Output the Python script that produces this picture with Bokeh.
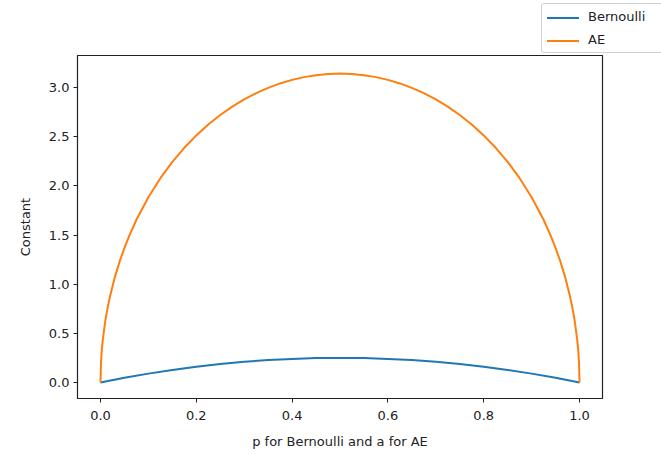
from bokeh.plotting import figure
from bokeh.layouts import column
from bokeh.models import Range1d, FixedTicker, PrintfTickFormatter, Div
from bokeh.embed import file_html
from bokeh.resources import INLINE

# Bernoulli constant p(1-p)
bern_p = [0.0, 0.05, 0.1, 0.15, 0.2, 0.25, 0.3, 0.35, 0.4, 0.45, 0.5,
          0.55, 0.6, 0.65, 0.7, 0.75, 0.8, 0.85, 0.9, 0.95, 1.0]
bern_c = [0.0, 0.048, 0.09, 0.128, 0.16, 0.188, 0.21, 0.228, 0.24, 0.248, 0.25,
          0.248, 0.24, 0.228, 0.21, 0.188, 0.16, 0.128, 0.09, 0.048, 0.0]

# AE constant
ae_a = [0.0, 0.001, 0.003, 0.005, 0.01, 0.015, 0.02, 0.03, 0.04, 0.05, 0.06, 0.075,
        0.1, 0.125, 0.15, 0.175, 0.2, 0.225, 0.25, 0.275, 0.3, 0.325, 0.35, 0.375,
        0.4, 0.425, 0.45, 0.475, 0.5,
        0.525, 0.55, 0.575, 0.6, 0.625, 0.65, 0.675, 0.7, 0.725, 0.75, 0.775, 0.8,
        0.825, 0.85, 0.875, 0.9, 0.925, 0.94, 0.95, 0.96, 0.97, 0.98, 0.985, 0.99,
        0.995, 0.997, 0.999, 1.0]
ae_c = [0.0, 0.199, 0.344, 0.443, 0.625, 0.764, 0.880, 1.072, 1.231, 1.369, 1.492, 1.655,
        1.885, 2.078, 2.244, 2.387, 2.513, 2.624, 2.721, 2.806, 2.879, 2.943, 2.997, 3.042,
        3.078, 3.106, 3.126, 3.138, 3.142,
        3.138, 3.126, 3.106, 3.078, 3.042, 2.997, 2.943, 2.879, 2.806, 2.721, 2.624, 2.513,
        2.387, 2.244, 2.078, 1.885, 1.655, 1.492, 1.369, 1.231, 1.072, 0.880, 0.764, 0.625,
        0.443, 0.344, 0.199, 0.0]

series_names = ["Bernoulli", "AE"]
series_colors = ["#1f77b4", "#ff7f0e"]

x_ticks = [0.0, 0.2, 0.4, 0.6, 0.8, 1.0]
y_ticks = [0.0, 0.5, 1.0, 1.5, 2.0, 2.5, 3.0]

FONT = "DejaVu Sans"

# ---- main plot (below the legend strip) ----
p = figure(width=661, height=399, output_backend="svg", toolbar_location=None,
           x_range=Range1d(-0.048, 1.048), y_range=Range1d(-0.163, 3.326),
           min_border_left=77, min_border_right=59, min_border_top=0, min_border_bottom=56)
p.background_fill_color = "white"
p.border_fill_color = "white"
p.outline_line_color = "#222222"
p.outline_line_width = 1.2
p.grid.visible = False

p.line(bern_p, bern_c, line_color=series_colors[0], line_width=2)
p.line(ae_a, ae_c, line_color=series_colors[1], line_width=2)

for ax in (p.xaxis[0], p.yaxis[0]):
    ax.axis_line_color = "#222222"
    ax.major_tick_line_color = "#222222"
    ax.major_tick_out = 4
    ax.major_tick_in = 0
    ax.minor_tick_line_color = None
    ax.major_label_text_font = FONT
    ax.major_label_text_font_size = "13px"
    ax.major_label_text_color = "#222222"
    ax.axis_label_text_font = FONT
    ax.axis_label_text_font_size = "13px"
    ax.axis_label_text_font_style = "normal"
    ax.axis_label_text_color = "#222222"
    ax.major_label_standoff = 4
    ax.formatter = PrintfTickFormatter(format="%.1f")

p.xaxis[0].ticker = FixedTicker(ticks=x_ticks)
p.yaxis[0].ticker = FixedTicker(ticks=y_ticks)
p.xaxis[0].axis_label = "p for Bernoulli and a for AE"
p.yaxis[0].axis_label = "Constant"
p.xaxis[0].major_label_standoff = 8
p.xaxis[0].axis_label_standoff = 11
p.yaxis[0].axis_label_standoff = 13

# ---- legend strip (outside the axes, top right, as in the reference) ----
rows = []
for i, (name, col) in enumerate(zip(series_names, series_colors)):
    rows.append(
        f'<div style="position:absolute;left:5px;top:{4 + i * 23}px;height:19px;'
        f'display:flex;align-items:center;white-space:nowrap;">'
        f'<span style="display:inline-block;width:32px;height:2px;background:{col};'
        f'margin-right:9px;"></span>{name}</div>'
    )
legend_html = (
    '<div style="position:absolute;left:541px;top:3px;width:140px;height:50px;'
    'border:1px solid #d0d0d0;border-radius:3px;background:white;'
    f'font-family:\'{FONT}\';font-size:13px;color:#222222;">'
    + "".join(rows) + '</div>'
)
lg = Div(text=legend_html, width=661, height=55,
         styles={"position": "relative", "overflow": "hidden", "margin": "0", "padding": "0"})

layout = column(lg, p, spacing=0)
open("out.html", "w").write(file_html(layout, INLINE))
